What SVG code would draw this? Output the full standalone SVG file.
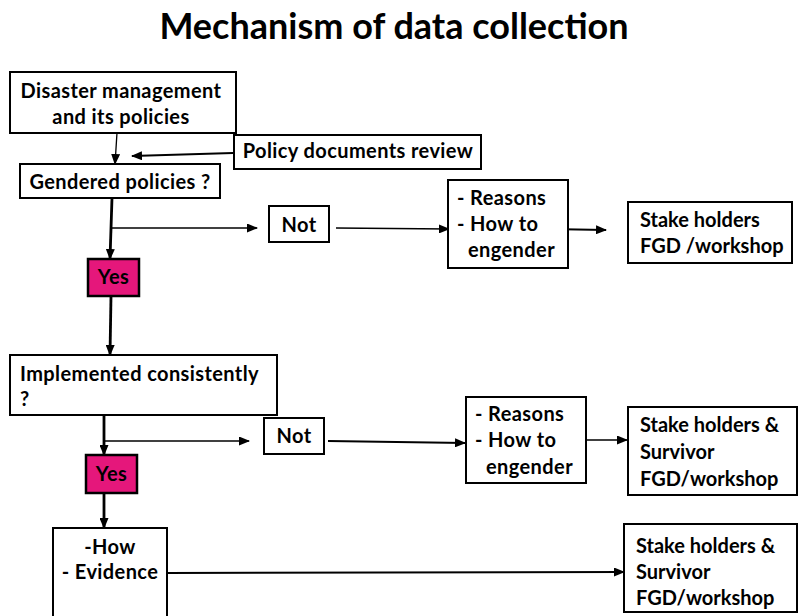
<svg xmlns="http://www.w3.org/2000/svg" width="804" height="616" viewBox="0 0 804 616">
<defs>
<style>
.box{fill:#fff;stroke:#000;stroke-width:2}
.yes{fill:#E5177B;stroke:#000;stroke-width:2.5}
.t{font-family:Lato,"Open Sans","Liberation Sans",sans-serif;font-weight:bold;font-size:20px;letter-spacing:0.4px;fill:#000}
.s{letter-spacing:0px}
.title{font-family:Lato,"Open Sans","Liberation Sans",sans-serif;font-weight:bold;font-size:36px;fill:#000}
.c{stroke:#000;fill:none;marker-end:url(#ah)}
.thin{stroke-width:1.3}
.med{stroke-width:2}
.thick{stroke-width:2.8}
</style>
<marker id="ah" markerUnits="userSpaceOnUse" markerWidth="11" markerHeight="9" refX="10" refY="4.5" orient="auto">
<path d="M0,0 L11,4.5 L0,9 z" fill="#000"/>
</marker>
</defs>
<rect width="804" height="616" fill="#fff"/>
<text class="title" x="394" y="39" text-anchor="middle">Mechanism of data collection</text>

<g id="connectors">
<path class="c thin" d="M117,133 L115,164"/>
<path class="c med" d="M233,153 L132,156"/>
<path class="c thick" d="M112,198 L110,259"/>
<path class="c thin" d="M112,228 L257,228"/>
<path class="c thin" d="M336,228 L449,229"/>
<path class="c med" d="M548,229 L606,230"/>
<path class="c thick" d="M111,296 L110,355"/>
<path class="c thick" d="M104,415 L104,455"/>
<path class="c thin" d="M105,441 L249,441"/>
<path class="c med" d="M328,441 L465,443"/>
<path class="c thin" d="M568,440 L627,440"/>
<path class="c thick" d="M104,493 L104,528"/>
<path class="c med" d="M167,573 L624,572"/>
</g>

<g id="n-disaster">
<rect class="box" x="10" y="72" width="226" height="61"/>
<text class="t" x="121" y="98" text-anchor="middle">Disaster management</text>
<text class="t" x="121" y="124" text-anchor="middle">and its policies</text>
</g>
<g id="n-review">
<rect class="box" x="234" y="135" width="247" height="34"/>
<text class="t" x="358" y="158" text-anchor="middle">Policy documents review</text>
</g>
<g id="n-gendered">
<rect class="box" x="20" y="164" width="200" height="34"/>
<text class="t" x="120" y="189" text-anchor="middle">Gendered policies ?</text>
</g>
<g id="n-not1">
<rect class="box" x="269" y="206" width="60" height="36"/>
<text class="t" x="299" y="232" text-anchor="middle">Not</text>
</g>
<g id="n-reasons1">
<rect class="box" x="448" y="180" width="120" height="88"/>
<text class="t" x="457" y="205">- Reasons</text>
<text class="t" x="457" y="231">- How to</text>
<text class="t" x="468" y="257">engender</text>
</g>
<g id="n-stake1">
<rect class="box" x="628" y="202" width="164" height="61"/>
<text class="t s" x="640" y="227">Stake holders</text>
<text class="t s" x="640" y="253">FGD /workshop</text>
</g>
<g id="n-yes1">
<rect class="yes" x="88" y="259" width="51" height="37"/>
<text class="t" x="113.5" y="284" text-anchor="middle">Yes</text>
</g>
<g id="n-implemented">
<rect class="box" x="10" y="355" width="267" height="60"/>
<text class="t" x="20" y="381">Implemented consistently</text>
<text class="t" x="20" y="406">?</text>
</g>
<g id="n-not2">
<rect class="box" x="264" y="418" width="60" height="36"/>
<text class="t" x="294" y="443" text-anchor="middle">Not</text>
</g>
<g id="n-reasons2">
<rect class="box" x="466" y="397" width="120" height="86"/>
<text class="t" x="475" y="421">- Reasons</text>
<text class="t" x="475" y="447">- How to</text>
<text class="t" x="486" y="474">engender</text>
</g>
<g id="n-stake2">
<rect class="box" x="628" y="407" width="169" height="88"/>
<text class="t s" x="640" y="432">Stake holders &amp;</text>
<text class="t s" x="640" y="459">Survivor</text>
<text class="t s" x="640" y="486">FGD/workshop</text>
</g>
<g id="n-yes2">
<rect class="yes" x="86" y="455" width="51" height="38"/>
<text class="t" x="111.5" y="481" text-anchor="middle">Yes</text>
</g>
<g id="n-how">
<path class="box" d="M53,620 L53,528 L167,528 L167,620"/>
<text class="t" x="110" y="554" text-anchor="middle">-How</text>
<text class="t" x="110" y="579" text-anchor="middle">- Evidence</text>
</g>
<g id="n-stake3">
<rect class="box" x="624" y="524" width="173" height="88"/>
<text class="t s" x="636" y="553">Stake holders &amp;</text>
<text class="t s" x="636" y="579">Survivor</text>
<text class="t s" x="636" y="605">FGD/workshop</text>
</g>
</svg>
